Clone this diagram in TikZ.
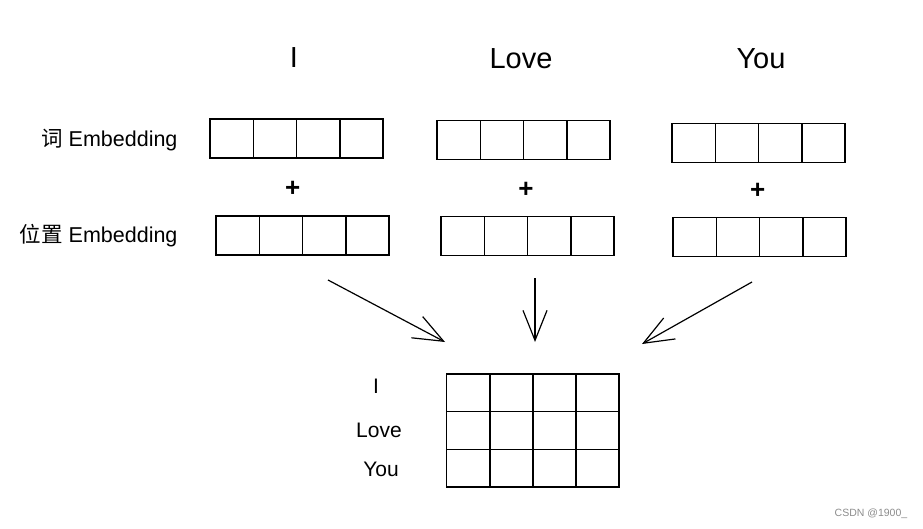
\documentclass[tikz,border=0pt]{standalone}
\usepackage{fontspec}
\setmainfont{Liberation Sans}
\newfontfamily\cjk{Noto Sans CJK SC}
\usetikzlibrary{arrows.meta,positioning}
\tikzset{%
  cell/.style={draw,line width=1.5pt,minimum width=43.3pt,minimum height=39pt,inner sep=0pt,outer sep=0pt},
  mcell/.style={cell,minimum width=43.1pt,minimum height=37.7pt},
  word/.style={font=\fontsize{29}{34}\selectfont,anchor=base},
  embname/.style={font=\fontsize{21.5}{25}\selectfont,anchor=base east},
  rowname/.style={font=\fontsize{21}{25}\selectfont,anchor=base},
  plus/.style={font=\fontsize{26}{30}\selectfont\bfseries},
  arrow/.style={-{Straight Barb[length=30pt,width=24pt]},line width=1.2pt}%
}

\begin{document}
\begin{tikzpicture}[x=1pt,y=-1pt]
\useasboundingbox (0,0) rectangle (923,529);

% Words on top
\node[word] (tI) at (294,68) {I};
\node[word] (tLove) at (521,69) {Love};
\node[word] (tYou) at (761,69) {You};

% Row names
\node[embname] (wname) at (181,147) {{\cjk 词} Embedding};
\node[embname] (pname) at (181,243) {{\cjk 位置} Embedding};

% Word embeddings
\foreach \g/\x/\y in {1/210/138.5, 2/437/140, 3/672/142.8}
  \foreach \i in {1,...,4}
    \node[cell] (w\g-\i) at ({\x+43.3*(\i-0.5)},\y) {};

% Plus signs
\node[plus] (plus1) at (292.7,188.5) {+};
\node[plus] (plus2) at (526,190) {+};
\node[plus] (plus3) at (757.7,190.7) {+};

% Position embeddings
\foreach \g/\x/\y in {1/216/235.5, 2/441/236, 3/673/237}
  \foreach \i in {1,...,4}
    \node[cell] (p\g-\i) at ({\x+43.3*(\i-0.5)},\y) {};

% Arrows into the matrix
\coordinate (a1) at (328,280);
\coordinate (b1) at (445,342);
\coordinate (a2) at (535,278);
\coordinate (b2) at (535,342);
\coordinate (a3) at (752,282);
\coordinate (b3) at (642,344);
\draw[arrow] (a1) -- (b1);
\draw[arrow] (a2) -- (b2);
\draw[arrow] (a3) -- (b3);

% Sentence matrix
\foreach \r in {1,2,3}
  \foreach \i in {1,...,4}
    \node[mcell] (m\r-\i) at ({446.7+43.1*(\i-0.5)},{374+37.7*(\r-0.5)}) {};

\node[rowname] (rI) at (376,393.5) {I};
\node[rowname] (rLove) at (379,437) {Love};
\node[rowname] (rYou) at (381,476.5) {You};

\node[font=\fontsize{10.5}{12}\selectfont,text=gray!90] (mark) at (871,514) {CSDN @1900\_};

\end{tikzpicture}
\end{document}
